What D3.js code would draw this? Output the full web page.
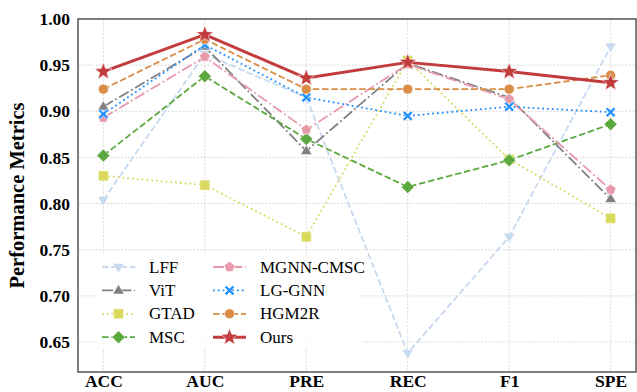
<!DOCTYPE html>
<html>
<head>
<meta charset="utf-8">
<script src="https://cdn.jsdelivr.net/npm/d3@7"></script>
<style>
  body { margin: 0; background: #fff; }
  svg { display: block; }
</style>
</head>
<body>
<div id="vis"></div>
<script>
// categories and series values
const categories = ["ACC", "AUC", "PRE", "REC", "F1", "SPE"];
const yTicks = [0.65, 0.70, 0.75, 0.80, 0.85, 0.90, 0.95, 1.00];

const LFF      = [0.804, 0.962, 0.915, 0.638, 0.764, 0.970];
const ViT      = [0.905, 0.970, 0.857, 0.952, 0.915, 0.805];
const GTAD     = [0.830, 0.820, 0.764, 0.955, 0.848, 0.784];
const MSC      = [0.852, 0.938, 0.870, 0.818, 0.847, 0.886];
const MGNNCMSC = [0.893, 0.959, 0.880, 0.951, 0.913, 0.815];
const LGGNN    = [0.897, 0.972, 0.915, 0.895, 0.905, 0.899];
const HGM2R    = [0.924, 0.978, 0.924, 0.924, 0.924, 0.939];
const Ours     = [0.943, 0.983, 0.936, 0.953, 0.943, 0.931];

const seriesNames = ["LFF", "ViT", "GTAD", "MSC", "MGNN-CMSC", "LG-GNN", "HGM2R", "Ours"];
const seriesValues = [LFF, ViT, GTAD, MSC, MGNNCMSC, LGGNN, HGM2R, Ours];

// marker shapes, size = radius in px
const marker = {
  triDown: { draw(c, r) { c.moveTo(-r * 0.95, -r * 0.6); c.lineTo(r * 0.95, -r * 0.6); c.lineTo(0, r); c.closePath(); } },
  triUp: { draw(c, r) { c.moveTo(-r * 0.95, r * 0.6); c.lineTo(r * 0.95, r * 0.6); c.lineTo(0, -r); c.closePath(); } },
  square: { draw(c, r) { c.rect(-r, -r, 2 * r, 2 * r); } },
  diamond: { draw(c, r) { c.moveTo(0, -r); c.lineTo(r, 0); c.lineTo(0, r); c.lineTo(-r, 0); c.closePath(); } },
  pentagon: { draw(c, r) {
    for (let i = 0; i < 5; i++) {
      const a = -Math.PI / 2 + i * 2 * Math.PI / 5;
      if (i === 0) c.moveTo(r * Math.cos(a), r * Math.sin(a)); else c.lineTo(r * Math.cos(a), r * Math.sin(a));
    }
    c.closePath();
  } },
  cross: { draw(c, r) {
    const w = r * 0.38;
    const pts = [[-r, -r + w], [-r + w, -r], [0, -w], [r - w, -r], [r, -r + w], [w, 0],
                 [r, r - w], [r - w, r], [0, w], [-r + w, r], [-r, r - w], [-w, 0]];
    pts.forEach((p, i) => i ? c.lineTo(p[0], p[1]) : c.moveTo(p[0], p[1]));
    c.closePath();
  } },
  circle: { draw(c, r) { c.moveTo(r, 0); c.arc(0, 0, r, 0, 2 * Math.PI); } },
  star: { draw(c, r) {
    const ri = r * 0.42;
    for (let i = 0; i < 10; i++) {
      const a = -Math.PI / 2 + i * Math.PI / 5;
      const rr = i % 2 ? ri : r;
      if (i === 0) c.moveTo(rr * Math.cos(a), rr * Math.sin(a)); else c.lineTo(rr * Math.cos(a), rr * Math.sin(a));
    }
    c.closePath();
  } }
};

const styles = [
  { color: "#c6d9ee", dash: "6.5,2.8", width: 1.8, shape: marker.triDown, r: 6 },
  { color: "#808080", dash: "11,2.8,1.8,2.8", width: 1.8, shape: marker.triUp, r: 6 },
  { color: "#d9d95c", dash: "1.8,3", width: 1.8, shape: marker.square, r: 5 },
  { color: "#5aa83e", dash: "6.5,2.8", width: 1.8, shape: marker.diamond, r: 6.5 },
  { color: "#e89aab", dash: "11,2.8,1.8,2.8", width: 1.8, shape: marker.pentagon, r: 5.5 },
  { color: "#2190ff", dash: "1.8,3", width: 1.8, shape: marker.cross, r: 5 },
  { color: "#d98d47", dash: "6.5,2.8", width: 1.8, shape: marker.circle, r: 5 },
  { color: "#c23b3d", dash: null, width: 3, shape: marker.star, r: 9 }
];

const width = 637;
const height = 392;
const margin = { top: 19, right: 1, bottom: 20, left: 78 };

const svg = d3.select("#vis")
  .append("svg")
  .attr("width", width)
  .attr("height", height)
  .attr("viewBox", [0, 0, width, height]);

const x = d3.scalePoint()
  .domain(categories)
  .range([margin.left, width - margin.right])
  .padding(0.25);

const y = d3.scaleLinear()
  .domain([0.6175, 1.0])
  .range([height - margin.bottom, margin.top]);

// grid
svg.append("g")
  .selectAll("line.h")
  .data(yTicks)
  .join("line")
  .attr("x1", margin.left).attr("x2", width - margin.right)
  .attr("y1", d => y(d)).attr("y2", d => y(d))
  .attr("stroke", "#cfcfcf").attr("stroke-width", 0.8).attr("stroke-dasharray", "2,1.6");

svg.append("g")
  .selectAll("line.v")
  .data(categories)
  .join("line")
  .attr("x1", d => x(d)).attr("x2", d => x(d))
  .attr("y1", margin.top).attr("y2", height - margin.bottom)
  .attr("stroke", "#cfcfcf").attr("stroke-width", 0.8).attr("stroke-dasharray", "2,1.6");

// series
const line = d3.line()
  .x((d, i) => x(categories[i]))
  .y(d => y(d));

seriesValues.forEach((vals, k) => {
  const s = styles[k];
  const g = svg.append("g");
  g.append("path")
    .attr("d", line(vals))
    .attr("fill", "none")
    .attr("stroke", s.color)
    .attr("stroke-width", s.width)
    .attr("stroke-dasharray", s.dash)
    .attr("stroke-linejoin", "round");
  g.selectAll("path.m")
    .data(vals)
    .join("path")
    .attr("transform", (d, i) => `translate(${x(categories[i])},${y(d)})`)
    .attr("d", d3.symbol().type(s.shape).size(s.r))
    .attr("fill", s.color)
    .attr("stroke", "#fff")
    .attr("stroke-opacity", 0.7)
    .attr("stroke-width", 0.8);
});

// axes
const yAxis = svg.append("g")
  .attr("transform", `translate(${margin.left},0)`)
  .call(d3.axisLeft(y).tickValues(yTicks).tickFormat(d3.format(".2f")).tickSize(0).tickPadding(8));
yAxis.select(".domain").remove();
yAxis.selectAll("text")
  .attr("font-family", "Liberation Serif, Times New Roman, serif")
  .attr("font-weight", "bold")
  .attr("font-size", 17.5)
  .attr("fill", "#000");

const xAxis = svg.append("g")
  .attr("transform", `translate(0,${height - margin.bottom})`)
  .call(d3.axisBottom(x).tickSize(0).tickPadding(3));
xAxis.select(".domain").remove();
xAxis.selectAll("text")
  .attr("font-family", "Liberation Serif, Times New Roman, serif")
  .attr("font-weight", "bold")
  .attr("font-size", 17.5)
  .attr("fill", "#000");

// frame
svg.append("rect")
  .attr("x", margin.left)
  .attr("y", margin.top)
  .attr("width", width - margin.right - margin.left)
  .attr("height", height - margin.bottom - margin.top)
  .attr("fill", "none")
  .attr("stroke", "#555")
  .attr("stroke-width", 1.5);

svg.append("text")
  .attr("transform", `translate(24,${(margin.top + height - margin.bottom) / 2}) rotate(-90)`)
  .attr("text-anchor", "middle")
  .attr("font-family", "Liberation Serif, Times New Roman, serif")
  .attr("font-weight", "bold")
  .attr("font-size", 20.5)
  .text("Performance Metrics");

// legend, two columns of four
const legend = svg.append("g");
legend.append("rect")
  .attr("x", 96).attr("y", 254).attr("width", 266).attr("height", 96)
  .attr("fill", "#fff").attr("fill-opacity", 0.8);

seriesNames.forEach((name, k) => {
  const s = styles[k];
  const col = Math.floor(k / 4);
  const row = k % 4;
  const lx = 102 + col * 111;
  const ly = 267 + row * 23.4;
  const g = legend.append("g").attr("transform", `translate(${lx},${ly})`);
  g.append("line")
    .attr("x1", 0).attr("x2", 33)
    .attr("stroke", s.color)
    .attr("stroke-width", s.width)
    .attr("stroke-dasharray", s.dash);
  g.append("path")
    .attr("transform", "translate(16.5,0)")
    .attr("d", d3.symbol().type(s.shape).size(s.r))
    .attr("fill", s.color)
    .attr("stroke", "#fff")
    .attr("stroke-opacity", 0.7)
    .attr("stroke-width", 0.8);
  g.append("text")
    .attr("x", 47)
    .attr("dy", "0.33em")
    .attr("font-family", "Liberation Serif, Times New Roman, serif")
    .attr("font-size", 17)
    .text(name);
});
</script>
</body>
</html>
